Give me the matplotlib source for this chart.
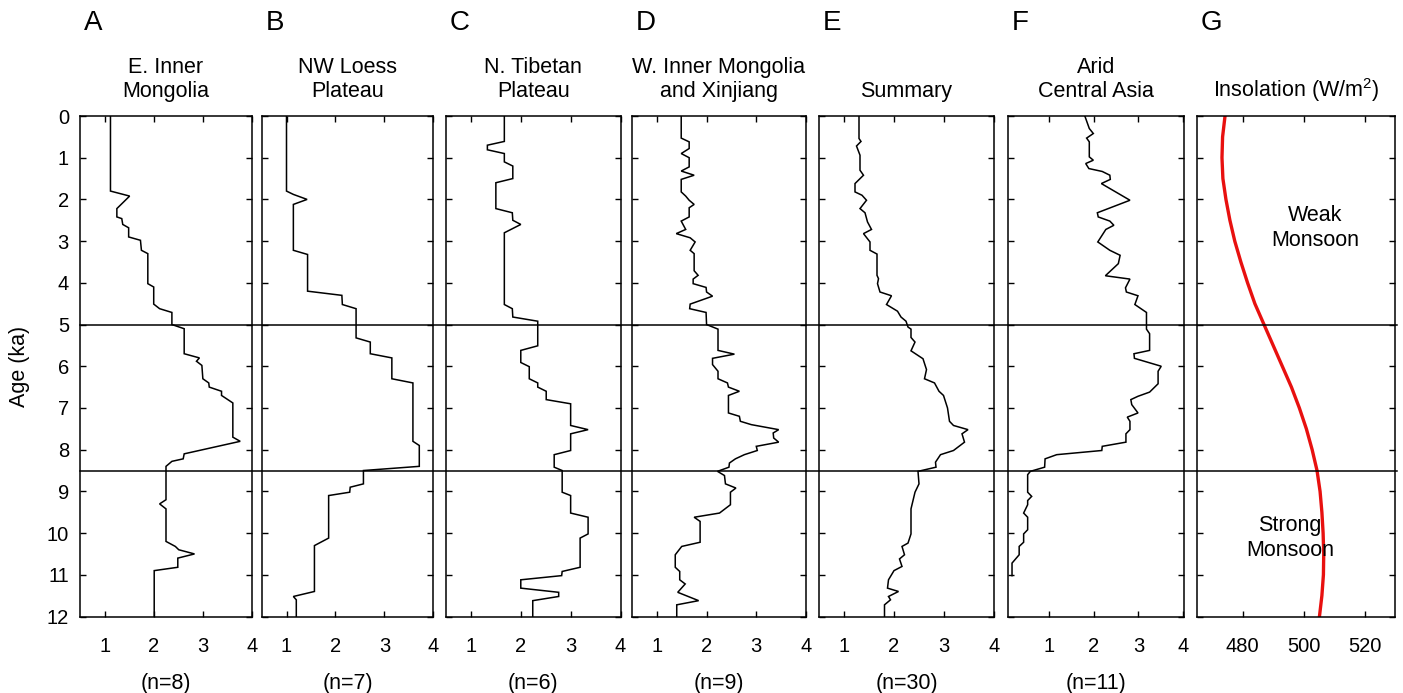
import matplotlib
matplotlib.use("Agg")
import matplotlib.pyplot as plt
from matplotlib.lines import Line2D

plt.rcParams['font.family'] = ['Liberation Sans', 'DejaVu Sans']
plt.rcParams['mathtext.fontset'] = 'custom'
plt.rcParams['mathtext.rm'] = 'Liberation Sans'
plt.rcParams['mathtext.it'] = 'Liberation Sans:italic'

# ---- moisture index profiles (age in ka, index value) ----
a_age = [0, 1.8, 1.92, 2.22, 2.42, 2.46, 2.6, 2.68, 2.9, 2.98, 3.22, 3.3, 4.02, 4.1, 4.51, 4.62,
         4.71, 5.0, 5.1, 5.7, 5.8, 5.88, 5.98, 6.3, 6.4, 6.5, 6.6, 6.7, 6.88, 7.7, 7.8, 8.1,
         8.22, 8.28, 8.4, 9.2, 9.3, 9.42, 10.2, 10.32, 10.4, 10.5, 10.6, 10.82, 10.9, 12]
a_val = [1.12, 1.12, 1.51, 1.25, 1.25, 1.35, 1.37, 1.49, 1.49, 1.73, 1.75, 1.88, 1.88, 2.0, 2.0, 2.12,
         2.37, 2.37, 2.62, 2.62, 2.93, 2.87, 2.98, 3.0, 3.12, 3.13, 3.38, 3.38, 3.61, 3.61, 3.76, 2.62,
         2.6, 2.37, 2.25, 2.25, 2.12, 2.25, 2.25, 2.44, 2.51, 2.83, 2.49, 2.49, 2.01, 2.01]

b_age = [0, 1.8, 1.88, 2.0, 2.12, 3.22, 3.32, 4.2, 4.3, 4.52, 4.62, 5.32, 5.42, 5.7, 5.8, 6.3,
         6.4, 7.8, 7.9, 8.4, 8.5, 8.82, 8.9, 9.02, 9.1, 10.12, 10.3, 11.4, 11.52, 11.6, 12]
b_val = [1.0, 1.0, 1.14, 1.42, 1.14, 1.14, 1.43, 1.43, 2.13, 2.14, 2.42, 2.42, 2.71, 2.71, 3.15, 3.15,
         3.58, 3.58, 3.71, 3.71, 2.57, 2.57, 2.3, 2.29, 1.86, 1.86, 1.57, 1.57, 1.14, 1.2, 1.2]

c_age = [0, 0.61, 0.7, 0.81, 0.9, 1.1, 1.2, 1.5, 1.6, 2.22, 2.32, 2.5, 2.6, 2.8, 4.52, 4.62,
         4.82, 4.92, 5.51, 5.62, 5.91, 6.01, 6.3, 6.4, 6.5, 6.6, 6.8, 6.9, 7.42, 7.52, 7.62, 8.02,
         8.12, 8.42, 8.5, 9.02, 9.1, 9.52, 9.62, 10.02, 10.12, 10.82, 10.92, 11.02, 11.12, 11.32,
         11.42, 11.52, 11.62, 12]
c_val = [1.67, 1.67, 1.33, 1.33, 1.67, 1.67, 1.84, 1.84, 1.5, 1.5, 1.83, 1.84, 2.0, 1.67, 1.67, 1.83,
         1.84, 2.34, 2.34, 2.0, 2.0, 2.17, 2.17, 2.34, 2.34, 2.51, 2.51, 3.0, 3.0, 3.35, 3.0, 3.0,
         2.67, 2.67, 2.83, 2.83, 3.0, 3.0, 3.35, 3.35, 3.19, 3.19, 2.83, 2.82, 2.0, 2.0,
         2.76, 2.76, 2.24, 2.24]

d_age = [0, 0.53, 0.62, 0.78, 0.9, 1.0, 1.22, 1.32, 1.42, 1.52, 1.82, 1.92, 2.02, 2.12, 2.2, 2.42,
         2.52, 2.72, 2.82, 2.92, 3.02, 3.22, 3.3, 3.71, 3.82, 3.91, 4.02, 4.11, 4.22, 4.32, 4.51,
         4.62, 4.71, 5.0, 5.11, 5.62, 5.71, 5.81, 5.96, 6.12, 6.3, 6.4, 6.5, 6.6, 6.7, 7.12, 7.2,
         7.32, 7.4, 7.52, 7.6, 7.72, 7.82, 7.92, 8.02, 8.12, 8.22, 8.32, 8.42, 8.52, 8.62, 8.82,
         8.92, 9.02, 9.32, 9.52, 9.62, 9.72, 10.22, 10.32, 10.52, 10.82, 10.92, 11.12, 11.22,
         11.42, 11.62, 11.72, 12]
d_val = [1.49, 1.49, 1.65, 1.65, 1.49, 1.65, 1.65, 1.49, 1.75, 1.49, 1.49, 1.58, 1.65, 1.75, 1.65, 1.65,
         1.49, 1.58, 1.39, 1.67, 1.77, 1.67, 1.75, 1.75, 1.83, 1.73, 1.73, 1.99, 2.0, 2.12, 1.67,
         1.66, 1.99, 2.0, 2.23, 2.23, 2.56, 2.12, 2.12, 2.23, 2.23, 2.42, 2.44, 2.66, 2.44, 2.44, 2.66,
         2.68, 2.9, 3.45, 3.34, 3.35, 3.45, 3.0, 3.02, 2.76, 2.58, 2.46, 2.45, 2.22, 2.36, 2.38,
         2.59, 2.48, 2.48, 2.26, 1.75, 1.87, 1.87, 1.5, 1.37, 1.37, 1.46, 1.46, 1.57,
         1.42, 1.84, 1.4, 1.4]

e_age = [0, 0.54, 0.61, 0.72, 0.94, 1.3, 1.42, 1.62, 1.82, 1.9, 2.02, 2.22, 2.32, 2.54, 2.72, 2.82,
         3.02, 3.22, 3.31, 3.82, 3.9, 4.02, 4.22, 4.31, 4.52, 4.68, 4.82, 4.92, 5.06, 5.11, 5.31,
         5.42, 5.63, 5.82, 5.97, 6.08, 6.3, 6.4, 6.6, 6.7, 7.0, 7.32, 7.42, 7.52, 7.62, 7.82, 8.02,
         8.12, 8.3, 8.42, 8.52, 8.82, 9.02, 9.42, 10.02, 10.24, 10.32, 10.52, 10.62, 10.8, 10.9,
         11.12, 11.32, 11.4, 11.52, 11.6, 11.72, 12]
e_val = [1.3, 1.3, 1.34, 1.25, 1.32, 1.32, 1.39, 1.22, 1.22, 1.36, 1.45, 1.32, 1.42, 1.47, 1.55, 1.39,
         1.52, 1.52, 1.66, 1.66, 1.69, 1.67, 1.72, 1.95, 1.85, 2.07, 2.14, 2.24, 2.28, 2.34, 2.34,
         2.42, 2.34, 2.58, 2.62, 2.65, 2.61, 2.81, 2.9, 2.99, 3.07, 3.11, 3.19, 3.48, 3.36, 3.41, 3.19,
         2.93, 2.83, 2.84, 2.48, 2.5, 2.42, 2.34, 2.34, 2.28, 2.16, 2.21, 2.11, 2.16, 2.0,
         1.89, 1.87, 2.09, 1.89, 1.93, 1.81, 1.81]

f_age = [0, 0.3, 0.42, 0.53, 0.62, 0.98, 1.06, 1.14, 1.26, 1.33, 1.42, 1.52, 1.62, 2.02, 2.32, 2.42,
         2.52, 2.62, 2.72, 3.02, 3.22, 3.34, 3.54, 3.83, 3.91, 4.12, 4.22, 4.31, 4.52, 4.71, 5.11,
         5.22, 5.62, 5.7, 5.81, 6.0, 6.12, 6.42, 6.62, 6.72, 6.8, 6.92, 7.12, 7.22, 7.32, 7.52,
         7.62, 7.82, 7.92, 8.02, 8.12, 8.22, 8.42, 8.52, 8.6, 9.02, 9.12, 9.22, 9.32, 9.52, 9.62,
         9.92, 10.02, 10.22, 10.32, 10.52, 10.72, 11.02]
f_val = [1.8, 1.9, 1.99, 1.84, 1.9, 1.9, 1.99, 1.82, 1.89, 2.19, 2.36, 2.37, 2.17, 2.81, 2.08, 2.1,
         2.36, 2.45, 2.27, 2.09, 2.36, 2.59, 2.55, 2.26, 2.81, 2.71, 2.73, 2.99, 2.92, 3.18, 3.18,
         3.25, 3.25, 2.9, 2.91, 3.51, 3.44, 3.44, 3.25, 2.99, 2.83, 2.85, 2.99, 2.75, 2.81, 2.81,
         2.72, 2.72, 2.19, 2.18, 1.17, 0.91, 0.9, 0.58, 0.52, 0.52, 0.61, 0.52, 0.52, 0.43, 0.52,
         0.52, 0.43, 0.43, 0.33, 0.33, 0.17, 0.17]

# ---- summer insolation ----
ins_age = [0, 0.5, 1, 1.5, 2, 2.5, 3, 3.5, 4, 4.5, 5, 5.5, 6, 6.5, 7, 7.5, 8, 8.5, 9, 9.5,
           10, 10.5, 11, 11.5, 12]
ins_val = [474.2, 473.4, 473.2, 473.5, 474.5, 475.8, 477.4, 479.4, 481.6, 484.0, 487.0, 490.0,
           493.0, 496.0, 498.6, 500.9, 502.8, 504.4, 505.4, 506.0, 506.4, 506.6, 506.5, 506.0, 505.2]

letters = ['A', 'B', 'C', 'D', 'E', 'F', 'G']
titles = ['E. Inner\nMongolia', 'NW Loess\nPlateau', 'N. Tibetan\nPlateau',
          'W. Inner Mongolia\nand Xinjiang', 'Summary', 'Arid\nCentral Asia',
          'Insolation (W/m$^{2}$)']
counts = ['(n=8)', '(n=7)', '(n=6)', '(n=9)', '(n=30)', '(n=11)']
index_ticks = [1, 2, 3, 4]
ins_ticks = [480, 500, 520]
age_ticks = list(range(0, 13))
boundaries = [5.0, 8.5]

series = [(a_val, a_age), (b_val, b_age), (c_val, c_age), (d_val, d_age),
          (e_val, e_age), (f_val, f_age)]

W, H = 1403, 693
fig = plt.figure(figsize=(W / 100, H / 100), dpi=100)

TXT = 15.5
top_px, bot_px = 116.0, 616.5
boxes = [(80, 252), (262, 433.5), (446, 620.5), (632, 806), (819, 994), (1008, 1184), (1197, 1395)]
xlims = [(0.5, 4.0)] * 5 + [(0.08, 4.02), (465, 530)]
title_bottom = [102, 102, 102, 102, 102, 102, 104]

axes = []
for i, (x0, x1) in enumerate(boxes):
    ax = fig.add_axes([x0 / W, (H - bot_px) / H, (x1 - x0) / W, (bot_px - top_px) / H])
    ax.set_xlim(*xlims[i])
    ax.set_ylim(12, 0)
    ax.set_yticks(age_ticks)
    ax.tick_params(direction='in', top=True, right=True, length=4.5, width=1.0,
                   labelsize=14.5, colors='black')
    ax.tick_params(axis='x', pad=15)
    ax.tick_params(axis='y', pad=8)
    for s in ax.spines.values():
        s.set_linewidth(1.1)
    if i < 6:
        ax.set_xticks(index_ticks)
        xv, yv = series[i]
        ax.plot(xv, yv, color='black', lw=1.1, solid_joinstyle='miter')
        fig.text((x0 + x1) / 2 / W, 1 - 683 / H, counts[i], ha='center', va='center',
                 fontsize=TXT)
    else:
        ax.set_xticks(ins_ticks)
        ax.plot(ins_val, ins_age, color='#e8100f', lw=2.4)
    if i > 0:
        ax.tick_params(axis='y', labelleft=False)
    # panel letter
    fig.text((x0 + 4) / W, 1 - 23 / H, letters[i], fontsize=20, ha='left', va='center')
    # panel subtitle
    fig.text((x0 + x1) / 2 / W, 1 - title_bottom[i] / H, titles[i], fontsize=TXT,
             ha='center', va='bottom', linespacing=1.2)
    axes.append(ax)

axes[0].set_ylabel('Age (ka)', fontsize=TXT, labelpad=12)

# monsoon strength annotations on insolation panel
fig.text(1315 / W, 1 - 228 / H, 'Weak\nMonsoon', fontsize=TXT, ha='center', va='center',
         linespacing=1.25)
fig.text(1290 / W, 1 - 538 / H, 'Strong\nMonsoon', fontsize=TXT, ha='center', va='center',
         linespacing=1.25)

# boundary lines spanning all panels
inv = fig.transFigure.inverted()
for b in boundaries:
    _, yd = axes[0].transData.transform((1.0, b))
    _, yf = inv.transform((0, yd))
    fig.add_artist(Line2D([boxes[0][0] / W, 1397 / W], [yf, yf], transform=fig.transFigure,
                          color='black', lw=1.1))

fig.savefig('out.png', dpi=100)
